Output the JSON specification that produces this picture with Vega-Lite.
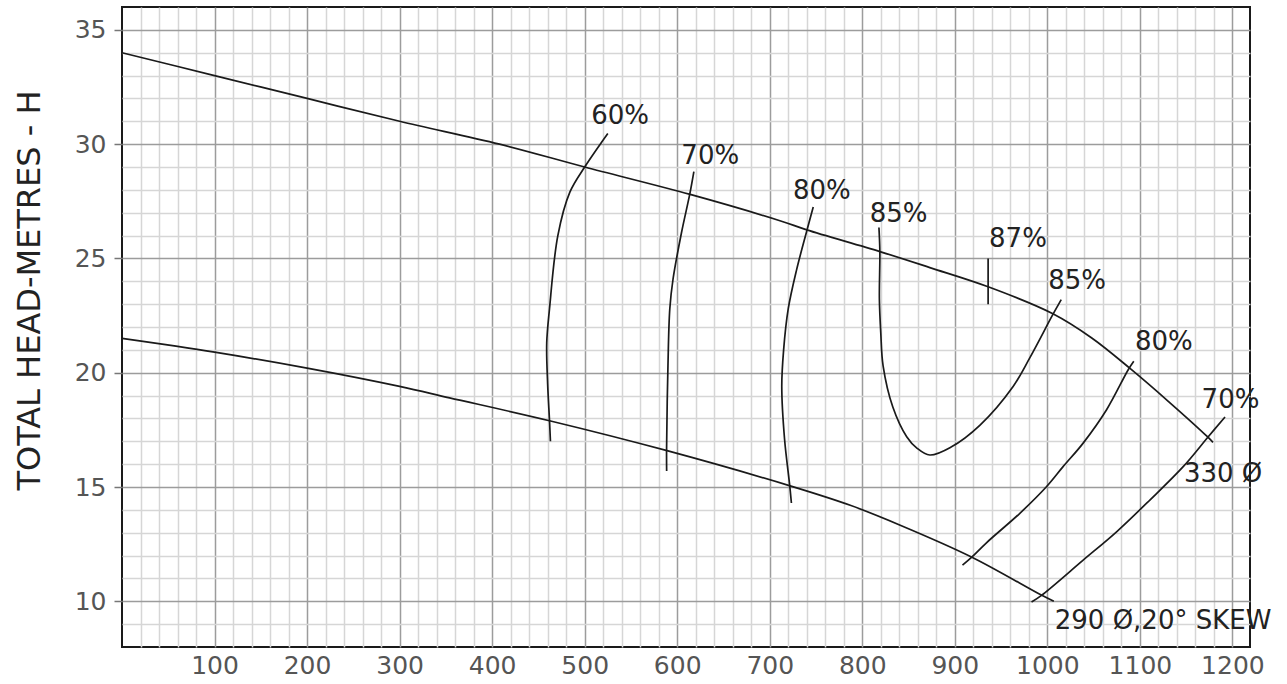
{
  "$schema": "https://vega.github.io/schema/vega-lite/v6.json",
  "width": 1128,
  "height": 640,
  "autosize": {"type": "none"},
  "padding": {"left": 122, "top": 7, "right": 37, "bottom": 37},
  "background": "white",
  "config": {
    "view": {"stroke": "#1a1a1a", "strokeWidth": 2},
    "font": "DejaVu Sans"
  },
  "datasets": {
    "curves": [
      {"s": "330", "o": 1, "x": 0, "y": 34.0},
      {"s": "330", "o": 2, "x": 100, "y": 33.0},
      {"s": "330", "o": 3, "x": 200, "y": 32.0},
      {"s": "330", "o": 4, "x": 300, "y": 31.0},
      {"s": "330", "o": 5, "x": 408, "y": 30.0},
      {"s": "330", "o": 6, "x": 500, "y": 29.0},
      {"s": "330", "o": 7, "x": 614, "y": 27.8},
      {"s": "330", "o": 8, "x": 711, "y": 26.65},
      {"s": "330", "o": 9, "x": 740, "y": 26.25},
      {"s": "330", "o": 10, "x": 819, "y": 25.3},
      {"s": "330", "o": 11, "x": 873, "y": 24.6},
      {"s": "330", "o": 12, "x": 936, "y": 23.76},
      {"s": "330", "o": 13, "x": 1006, "y": 22.58},
      {"s": "330", "o": 14, "x": 1048, "y": 21.52},
      {"s": "330", "o": 15, "x": 1089, "y": 20.2},
      {"s": "330", "o": 16, "x": 1131, "y": 18.74},
      {"s": "330", "o": 17, "x": 1173, "y": 17.2},
      {"s": "330", "o": 18, "x": 1179, "y": 16.95},
      {"s": "290", "o": 1, "x": 0, "y": 21.5},
      {"s": "290", "o": 2, "x": 100, "y": 20.9},
      {"s": "290", "o": 3, "x": 200, "y": 20.2},
      {"s": "290", "o": 4, "x": 300, "y": 19.4},
      {"s": "290", "o": 5, "x": 354, "y": 18.9},
      {"s": "290", "o": 6, "x": 462, "y": 17.9},
      {"s": "290", "o": 7, "x": 588, "y": 16.6},
      {"s": "290", "o": 8, "x": 722, "y": 15.05},
      {"s": "290", "o": 9, "x": 787, "y": 14.2},
      {"s": "290", "o": 10, "x": 841, "y": 13.33},
      {"s": "290", "o": 11, "x": 918, "y": 11.94},
      {"s": "290", "o": 12, "x": 994, "y": 10.26},
      {"s": "290", "o": 13, "x": 1007, "y": 10.0},
      {"s": "e60", "o": 1, "x": 525, "y": 30.47},
      {"s": "e60", "o": 2, "x": 500, "y": 29.0},
      {"s": "e60", "o": 3, "x": 484, "y": 27.9},
      {"s": "e60", "o": 4, "x": 471, "y": 26.0},
      {"s": "e60", "o": 5, "x": 462, "y": 22.8},
      {"s": "e60", "o": 6, "x": 459, "y": 21.3},
      {"s": "e60", "o": 7, "x": 460, "y": 19.5},
      {"s": "e60", "o": 8, "x": 462, "y": 17.9},
      {"s": "e60", "o": 9, "x": 463, "y": 17.0},
      {"s": "e70", "o": 1, "x": 618, "y": 28.8},
      {"s": "e70", "o": 2, "x": 613.5, "y": 27.8},
      {"s": "e70", "o": 3, "x": 604.5, "y": 26.1},
      {"s": "e70", "o": 4, "x": 595.5, "y": 24.1},
      {"s": "e70", "o": 5, "x": 592, "y": 22.8},
      {"s": "e70", "o": 6, "x": 590, "y": 20.3},
      {"s": "e70", "o": 7, "x": 588.5, "y": 16.6},
      {"s": "e70", "o": 8, "x": 588.6, "y": 15.7},
      {"s": "e80", "o": 1, "x": 747, "y": 27.25},
      {"s": "e80", "o": 2, "x": 740, "y": 26.2},
      {"s": "e80", "o": 3, "x": 729, "y": 24.5},
      {"s": "e80", "o": 4, "x": 720, "y": 22.8},
      {"s": "e80", "o": 5, "x": 715, "y": 21.0},
      {"s": "e80", "o": 6, "x": 713, "y": 19.4},
      {"s": "e80", "o": 7, "x": 716, "y": 17.1},
      {"s": "e80", "o": 8, "x": 721.6, "y": 15.06},
      {"s": "e80", "o": 9, "x": 723.4, "y": 14.3},
      {"s": "e85", "o": 1, "x": 818, "y": 26.35},
      {"s": "e85", "o": 2, "x": 819, "y": 25.3},
      {"s": "e85", "o": 3, "x": 818.5, "y": 23.2},
      {"s": "e85", "o": 4, "x": 820, "y": 21.74},
      {"s": "e85", "o": 5, "x": 822.5, "y": 20.3},
      {"s": "e85", "o": 6, "x": 833, "y": 18.5},
      {"s": "e85", "o": 7, "x": 848, "y": 17.2},
      {"s": "e85", "o": 8, "x": 859, "y": 16.7},
      {"s": "e85", "o": 9, "x": 873, "y": 16.4},
      {"s": "e85", "o": 10, "x": 896, "y": 16.75},
      {"s": "e85", "o": 11, "x": 927, "y": 17.7},
      {"s": "e85", "o": 12, "x": 963, "y": 19.4},
      {"s": "e85", "o": 13, "x": 981, "y": 20.65},
      {"s": "e85", "o": 14, "x": 1006, "y": 22.55},
      {"s": "e85", "o": 15, "x": 1015, "y": 23.2},
      {"s": "e87", "o": 1, "x": 936, "y": 25.0},
      {"s": "e87", "o": 2, "x": 936, "y": 23.0},
      {"s": "e80r", "o": 1, "x": 1093.4, "y": 20.5},
      {"s": "e80r", "o": 2, "x": 1087.4, "y": 20.13},
      {"s": "e80r", "o": 3, "x": 1064, "y": 18.38},
      {"s": "e80r", "o": 4, "x": 1038.7, "y": 16.92},
      {"s": "e80r", "o": 5, "x": 1017, "y": 15.89},
      {"s": "e80r", "o": 6, "x": 999, "y": 15.01},
      {"s": "e80r", "o": 7, "x": 970.3, "y": 13.85},
      {"s": "e80r", "o": 8, "x": 934.2, "y": 12.56},
      {"s": "e80r", "o": 9, "x": 918, "y": 11.92},
      {"s": "e80r", "o": 10, "x": 908.3, "y": 11.58},
      {"s": "e70r", "o": 1, "x": 1192, "y": 18.06},
      {"s": "e70r", "o": 2, "x": 1173.9, "y": 17.2},
      {"s": "e70r", "o": 3, "x": 1146.8, "y": 15.89},
      {"s": "e70r", "o": 4, "x": 1110.8, "y": 14.43},
      {"s": "e70r", "o": 5, "x": 1074.8, "y": 13.04},
      {"s": "e70r", "o": 6, "x": 1038.7, "y": 11.8},
      {"s": "e70r", "o": 7, "x": 993.7, "y": 10.26},
      {"s": "e70r", "o": 8, "x": 982.9, "y": 9.97}
    ],
    "labels": [
      {"x": 507, "y": 30.88, "t": "60%"},
      {"x": 604.5, "y": 29.12, "t": "70%"},
      {"x": 725, "y": 27.59, "t": "80%"},
      {"x": 808, "y": 26.59, "t": "85%"},
      {"x": 937, "y": 25.51, "t": "87%"},
      {"x": 1001, "y": 23.67, "t": "85%"},
      {"x": 1094.6, "y": 20.98, "t": "80%"},
      {"x": 1166.7, "y": 18.45, "t": "70%"},
      {"x": 1147.6, "y": 15.23, "t": "330 Ø"},
      {"x": 1008, "y": 8.8, "t": "290 Ø,20° SKEW"}
    ]
  },
  "layer": [
    {
      "data": {"name": "curves"},
      "mark": {"type": "line", "interpolate": "catmull-rom", "color": "#1a1a1a", "strokeWidth": 1.7},
      "encoding": {
        "x": {
          "field": "x", "type": "quantitative",
          "scale": {"domain": [0, 1219], "nice": false, "zero": false},
          "axis": {
            "orient": "bottom",
            "values": [100, 200, 300, 400, 500, 600, 700, 800, 900, 1000, 1100, 1200],
            "format": "d",
            "grid": true, "gridColor": "#9c9c9c", "gridWidth": 1.5,
            "ticks": false, "domain": false,
            "labelFontSize": 25, "labelColor": "#555555", "labelPadding": 6,
            "labelFont": "DejaVu Sans", "title": null
          }
        },
        "y": {
          "field": "y", "type": "quantitative",
          "scale": {"domain": [8, 36], "nice": false, "zero": false},
          "axis": {
            "orient": "left",
            "values": [10, 15, 20, 25, 30, 35],
            "grid": true, "gridColor": "#9c9c9c", "gridWidth": 1.5,
            "ticks": true, "tickSize": 8, "tickColor": "#777777", "tickWidth": 1.5,
            "domain": false,
            "labelFontSize": 25, "labelColor": "#555555", "labelPadding": 8,
            "labelFont": "DejaVu Sans",
            "title": "TOTAL HEAD-METRES - H",
            "titleFont": "DejaVu Sans", "titleFontSize": 32, "titleFontWeight": "normal",
            "titleColor": "#222222", "titleAngle": -90,
            "titleX": -93, "titleY": 283, "titleAlign": "center", "titleBaseline": "middle"
          }
        },
        "detail": {"field": "s"},
        "order": {"field": "o", "type": "quantitative"}
      }
    },
    {
      "data": {"name": "labels"},
      "mark": {"type": "text", "align": "left", "baseline": "alphabetic", "fontSize": 26, "font": "DejaVu Sans", "color": "#222222"},
      "encoding": {
        "x": {
          "field": "x", "type": "quantitative",
          "scale": {"domain": [0, 1219], "nice": false, "zero": false},
          "axis": {
            "orient": "bottom",
            "values": [20, 40, 60, 80, 120, 140, 160, 180, 220, 240, 260, 280, 320, 340, 360, 380, 420, 440, 460, 480, 520, 540, 560, 580, 620, 640, 660, 680, 720, 740, 760, 780, 820, 840, 860, 880, 920, 940, 960, 980, 1020, 1040, 1060, 1080, 1120, 1140, 1160, 1180],
            "grid": true, "gridColor": "#d6d6d6", "gridWidth": 1.5,
            "labels": false, "ticks": false, "domain": false, "title": null
          }
        },
        "y": {
          "field": "y", "type": "quantitative",
          "scale": {"domain": [8, 36], "nice": false, "zero": false},
          "axis": {
            "orient": "left",
            "values": [9, 11, 12, 13, 14, 16, 17, 18, 19, 21, 22, 23, 24, 26, 27, 28, 29, 31, 32, 33, 34],
            "grid": true, "gridColor": "#d6d6d6", "gridWidth": 1.5,
            "labels": false, "ticks": false, "domain": false, "title": null
          }
        },
        "text": {"field": "t"}
      }
    }
  ],
  "resolve": {"axis": {"x": "independent", "y": "independent"}}
}
